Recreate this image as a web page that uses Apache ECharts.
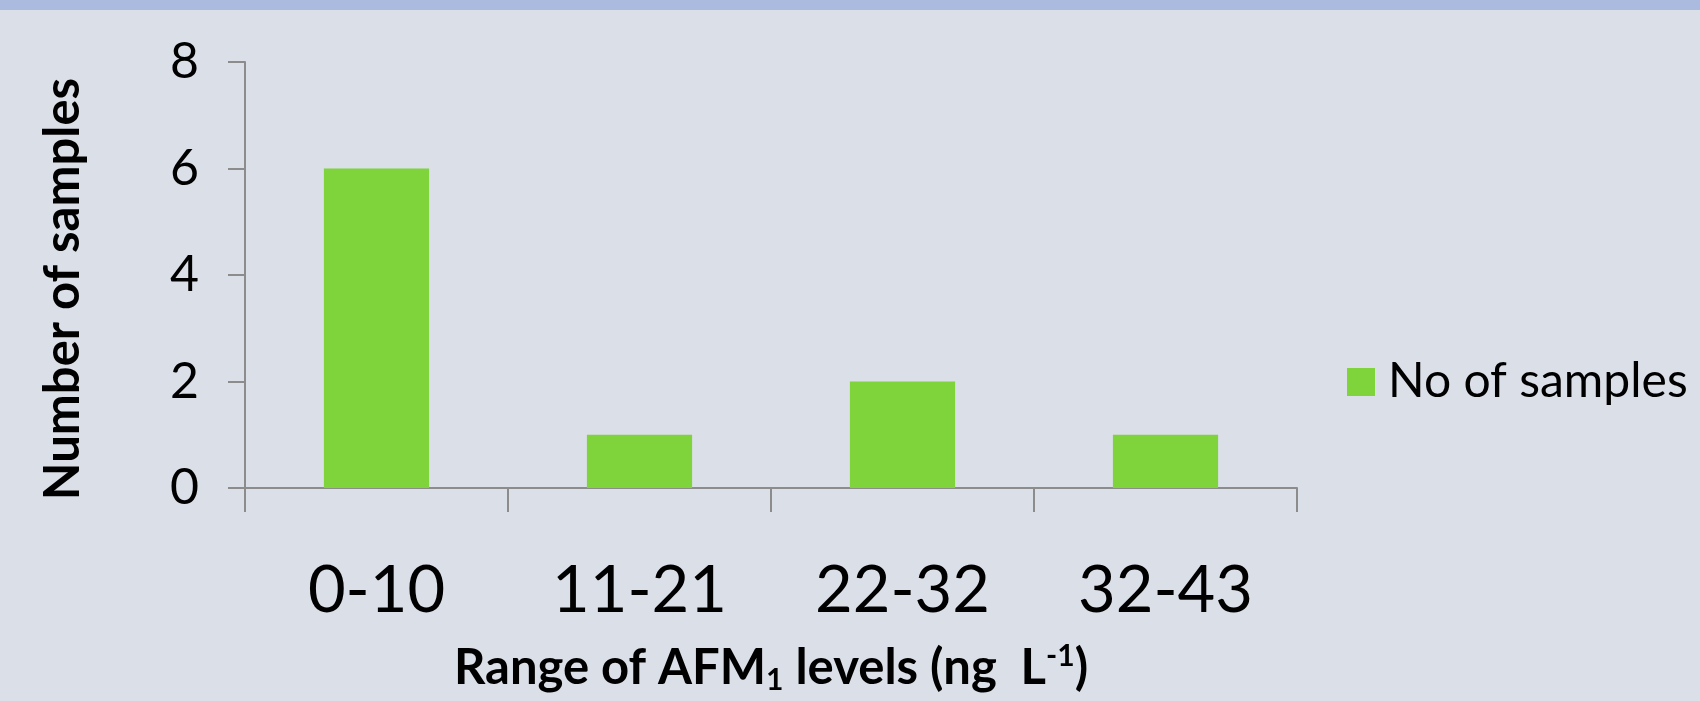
<!DOCTYPE html>
<html>
<head>
<meta charset="utf-8">
<script src="https://cdn.jsdelivr.net/npm/echarts@6/dist/echarts.min.js"></script>
<style>
  html, body { margin: 0; padding: 0; background: #dbdfe8; }
  #chart { width: 1700px; height: 701px; }
</style>
</head>
<body>
<div id="chart"></div>
<script>
// AFM1 ranges and counts
const categories = ["0-10", "11-21", "22-32", "32-43"];
const sampleCounts = [6, 1, 2, 1];
const yTicks = [0, 2, 4, 6, 8];

const font = "Lato";
const chart = echarts.init(document.getElementById("chart"));

chart.setOption({
  backgroundColor: "#dbdfe8",
  animation: false,
  graphic: [
    {
      type: "rect",
      shape: { x: 0, y: 0, width: 1700, height: 10 },
      style: { fill: "#abbbdf" },
      z: 100,
    },
  ],
  grid: {
    left: 245,
    right: 403,
    top: 62,
    bottom: 213,
    containLabel: false,
  },
  legend: {
    data: ["No of samples"],
    left: 1342,
    top: 353,
    orient: "vertical",
    itemWidth: 28,
    itemHeight: 28,
    icon: "rect",
    textStyle: {
      fontFamily: font,
      fontSize: 48,
      color: "#000",
      lineHeight: 48,
      padding: [0, 0, 0, 8],
    },
  },
  xAxis: {
    type: "category",
    data: categories,
    axisLine: { lineStyle: { color: "#8c8c8c", width: 2 } },
    axisTick: { show: true, length: 24, lineStyle: { color: "#8c8c8c", width: 2 } },
    axisLabel: {
      fontFamily: font,
      fontSize: 65,
      color: "#000",
      lineHeight: 66,
      margin: 70,
    },
    name: "{b|Range of AFM}{sub|1}{b| levels (ng  L}{sup|-1}{b|)}",
    nameLocation: "middle",
    nameGap: 153,
    nameTextStyle: {
      rich: {
        b: { fontFamily: font, fontWeight: "bold", fontSize: 49, color: "#000", lineHeight: 54 },
        sub: { fontFamily: font, fontWeight: "bold", fontSize: 30, color: "#000", lineHeight: 54, verticalAlign: "bottom", padding: [30, 0, 0, 0] },
        sup: { fontFamily: font, fontWeight: "bold", fontSize: 30, color: "#000", lineHeight: 54, verticalAlign: "top", padding: [0, 0, 14, 0] },
      },
    },
  },
  yAxis: {
    type: "value",
    min: 0,
    max: 8,
    interval: 2,
    splitLine: { show: false },
    axisLine: { show: true, lineStyle: { color: "#8c8c8c", width: 2 } },
    axisTick: { show: true, length: 17, lineStyle: { color: "#8c8c8c", width: 2 } },
    axisLabel: {
      fontFamily: font,
      fontSize: 50,
      color: "#000",
      margin: 46,
      formatter: (v) => (yTicks.includes(v) ? String(v) : ""),
    },
    name: "Number of samples",
    nameLocation: "middle",
    nameGap: 157,
    nameTextStyle: {
      fontFamily: font,
      fontWeight: "bold",
      fontSize: 49,
      color: "#000",
      padding: [0, 28, 0, 0],
    },
  },
  series: [
    {
      name: "No of samples",
      type: "bar",
      data: sampleCounts,
      barWidth: "40%",
      itemStyle: { color: "#7fd33b" },
    },
  ],
});
</script>
</body>
</html>
